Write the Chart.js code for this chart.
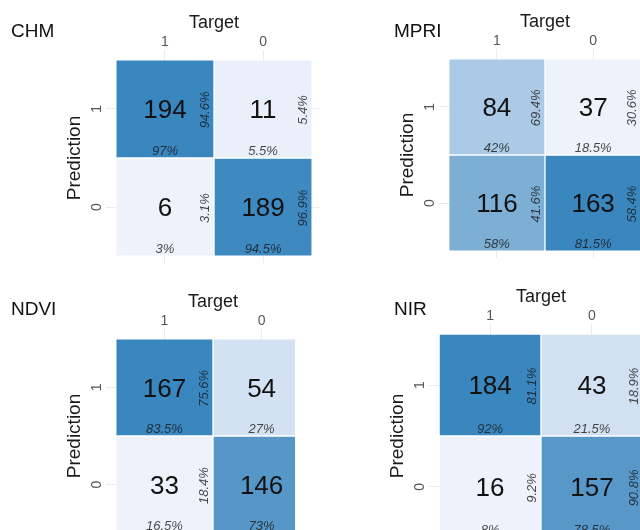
<!DOCTYPE html>
<html>
<head>
<meta charset="utf-8">
<script src="https://cdn.jsdelivr.net/npm/chart.js"></script>
<style>
  html, body { margin: 0; padding: 0; background: #fff; }
  body { width: 640px; height: 530px; position: relative; overflow: hidden; font-family: "Liberation Sans", Arial, sans-serif; }
  .clip { position: absolute; overflow: hidden; }
  .clip canvas { position: absolute; }
  .name { position: absolute; font-size: 19px; line-height: 1; color: #111; }
</style>
</head>
<body>
<div class="clip" id="w0"><canvas id="c0"></canvas></div>
<div class="clip" id="w1"><canvas id="c1"></canvas></div>
<div class="clip" id="w2"><canvas id="c2"></canvas></div>
<div class="clip" id="w3"><canvas id="c3"></canvas></div>
<script>
const panelNames = ['CHM', 'MPRI', 'NDVI', 'NIR'];
const targetLabels = ['1', '0'];
const predictionLabels = ['1', '0'];
// counts[prediction row][target column]
const chmCounts  = [[194, 11], [6, 189]];
const mpriCounts = [[84, 37], [116, 163]];
const ndviCounts = [[167, 54], [33, 146]];
const nirCounts  = [[184, 43], [16, 157]];
const allCounts = [chmCounts, mpriCounts, ndviCounts, nirCounts];

// page boxes: clip = [left, top, w, h], area = [left, top, size], name = [left, top]
const panelLayout = [
  { clip: [0, 0, 320, 265],     area: [109, 53, 210],  name: [11, 21] },
  { clip: [320, 0, 320, 265],   area: [442, 52, 206],  name: [394, 21] },
  { clip: [0, 265, 295, 265],   area: [109, 332, 208], name: [11, 299] },
  { clip: [295, 265, 345, 265], area: [432, 327, 218], name: [394, 299] }
];
const yW = 60, xH = 48;

Chart.defaults.font.family = '"Liberation Sans", Arial, sans-serif';

const lightRGB = [238, 243, 251];
const darkRGB = [58, 134, 191];
function fillFor(v, lo, hi) {
  const t = (v - lo) / (hi - lo);
  const c = lightRGB.map((l, i) => Math.round(l + (darkRGB[i] - l) * t));
  return 'rgb(' + c.join(',') + ')';
}
function pct(v, total) {
  return (Math.round(v / total * 1000) / 10) + '%';
}

const cellText = {
  id: 'cellText',
  afterDatasetsDraw(chart, args, opts) {
    const counts = opts.counts;
    const { ctx } = chart;
    const x = chart.scales.x, y = chart.scales.y;
    const u = x.getPixelForValue(1) - x.getPixelForValue(0);
    const uy = y.getPixelForValue(0) - y.getPixelForValue(1);
    const rowSum = counts.map(r => r[0] + r[1]);
    const colSum = [0, 1].map(c => counts[0][c] + counts[1][c]);
    ctx.save();
    ctx.textAlign = 'center';
    ctx.textBaseline = 'middle';
    counts.forEach((row, r) => row.forEach((v, c) => {
      const cx = x.getPixelForValue(c);
      const cy = y.getPixelForValue(1 - r);
      ctx.fillStyle = '#111';
      ctx.font = '26px "Liberation Sans", Arial, sans-serif';
      ctx.fillText(String(v), cx, cy + 2);
      ctx.fillStyle = 'rgba(25,25,25,0.8)';
      ctx.font = 'italic 13px "Liberation Sans", Arial, sans-serif';
      ctx.fillText(pct(v, colSum[c]), cx, cy + uy / 2 - 7);
      ctx.save();
      ctx.translate(cx + u / 2 - 8.5, cy + 1);
      ctx.rotate(-Math.PI / 2);
      ctx.fillText(pct(v, rowSum[r]), 0, 0);
      ctx.restore();
    }));
    ctx.restore();
  }
};

allCounts.forEach((counts, p) => {
  const L = panelLayout[p];
  const [ax, ay, size] = L.area;
  const wrap = document.getElementById('w' + p);
  wrap.style.left = L.clip[0] + 'px';
  wrap.style.top = L.clip[1] + 'px';
  wrap.style.width = L.clip[2] + 'px';
  wrap.style.height = L.clip[3] + 'px';
  const canvas = document.getElementById('c' + p);
  canvas.width = yW + size;
  canvas.height = xH + size;
  canvas.style.left = (ax - yW - L.clip[0]) + 'px';
  canvas.style.top = (ay - xH - L.clip[1]) + 'px';

  const name = document.createElement('div');
  name.className = 'name';
  name.textContent = panelNames[p];
  name.style.left = L.name[0] + 'px';
  name.style.top = L.name[1] + 'px';
  document.body.appendChild(name);

  const flat = counts.flat();
  const lo = Math.min(...flat), hi = Math.max(...flat);

  const datasets = counts.map((row, r) => ({
    label: 'Prediction ' + predictionLabels[r],
    data: row.map((v, c) => ({ x: c, y: [0.5 - r, 1.5 - r] })),
    backgroundColor: row.map(v => fillFor(v, lo, hi)),
    borderColor: 'rgba(255,255,255,0.22)',
    borderWidth: 1,
    borderSkipped: false,
    grouped: false,
    categoryPercentage: 1,
    barPercentage: 1
  }));

  new Chart(canvas, {
    type: 'bar',
    data: { datasets },
    plugins: [cellText],
    options: {
      responsive: false,
      animation: false,
      layout: { padding: 0 },
      plugins: {
        legend: { display: false },
        tooltip: { enabled: false },
        cellText: { counts }
      },
      scales: {
        x: {
          type: 'linear', position: 'top', min: -0.57, max: 1.57, offset: false,
          afterBuildTicks: s => { s.ticks = targetLabels.map((_, i) => ({ value: i })); },
          afterFit: s => { s.height = xH; s.paddingLeft = 0; s.paddingRight = 0; },
          ticks: { callback: v => targetLabels[v], color: '#555', font: { size: 14, lineHeight: 1 }, padding: 0.5, maxRotation: 0, autoSkip: false },
          grid: { color: '#ebebeb', tickLength: 3, offset: false },
          border: { display: false },
          title: { display: true, text: 'Target', color: '#1a1a1a', font: { size: 18 }, padding: { top: 7.2, bottom: 0 } }
        },
        y: {
          type: 'linear', min: -0.57, max: 1.57,
          afterBuildTicks: s => { s.ticks = [{ value: 0 }, { value: 1 }]; },
          afterFit: s => { s.width = yW; s.paddingTop = 0; s.paddingBottom = 0; },
          ticks: { callback: v => predictionLabels[1 - v], color: '#555', font: { size: 14, lineHeight: 1 }, padding: 4.6, minRotation: 90, maxRotation: 90, crossAlign: 'center', autoSkip: false },
          grid: { color: '#ebebeb', tickLength: 3 },
          border: { display: false },
          title: { display: true, text: 'Prediction', color: '#1a1a1a', font: { size: 19 }, padding: { top: 14.6, bottom: 0 } }
        }
      }
    }
  });
});
</script>
</body>
</html>
